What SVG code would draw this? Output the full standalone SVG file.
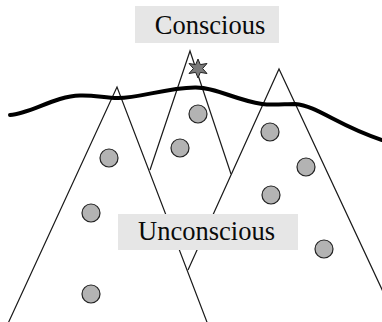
<svg xmlns="http://www.w3.org/2000/svg" width="382" height="322" viewBox="0 0 382 322">
<style>
.edge{fill:none;stroke:#1a1a1a;stroke-width:1.2;stroke-linejoin:miter}
.wave{fill:none;stroke:#000;stroke-width:4;stroke-linecap:round}
.dot{fill:#b3b3b3;stroke:#222;stroke-width:1.2}
.box{fill:#e6e6e6;stroke:none}
.lbl{font-family:"Liberation Serif","Times New Roman",serif;font-size:26.5px;fill:#0a0a0a;text-anchor:middle}
</style>
<rect width="382" height="322" fill="#fff"/>
<g id="connectors">
<polyline class="edge" points="150,170 190,51 231,174"/>
<polyline class="edge" points="188,270 279,69 400,328"/>
<polyline class="edge" points="5,330 117,87 210,330"/>
<path class="wave" d="M10,115 C30,114 55,96 80,95.5 C95,95 105,98 118,98 C140,98 165,88 195,87.5 C215,87 235,100 262,104 C272,105.5 285,104 295,104 C318,106 338,126 382,140"/>
</g>
<g id="dots">
<circle class="dot" cx="198" cy="114" r="9"/>
<circle class="dot" cx="180" cy="148" r="9"/>
<circle class="dot" cx="270" cy="132" r="9"/>
<circle class="dot" cx="109" cy="158" r="9"/>
<circle class="dot" cx="306" cy="167" r="9"/>
<circle class="dot" cx="271" cy="195" r="9"/>
<circle class="dot" cx="91" cy="213" r="9"/>
<circle class="dot" cx="324" cy="249" r="9"/>
<circle class="dot" cx="91" cy="294" r="9"/>
</g>
<g id="star">
<polygon points="198,59 200.3,64.6 207,63.5 202.6,68.5 207,73.5 200.3,72.4 198,78 195.7,72.4 189,73.5 193.4,68.5 189,63.5 195.7,64.6" fill="#7a7a7a" stroke="#222" stroke-width="1"/>
</g>
<g id="conscious">
<rect class="box" x="135" y="6" width="144" height="37"/>
<text class="lbl" x="210" y="34">Conscious</text>
</g>
<g id="unconscious">
<rect class="box" x="118" y="214" width="180" height="36"/>
<text class="lbl" x="206.5" y="240">Unconscious</text>
</g>
</svg>
